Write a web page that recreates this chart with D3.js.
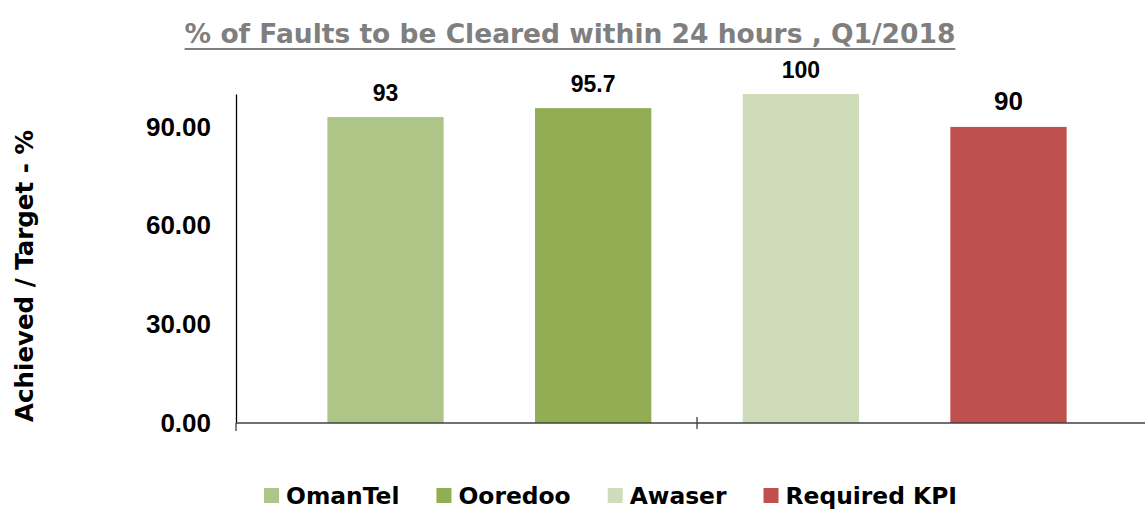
<!DOCTYPE html>
<html>
<head>
<meta charset="utf-8">
<script src="https://cdn.jsdelivr.net/npm/d3@7"></script>
<style>
  html, body { margin: 0; padding: 0; background: #fff; }
  svg { display: block; }
  text { font-family: "Liberation Sans", Arial, sans-serif; font-weight: bold; }
  text.wide { font-family: "DejaVu Sans", sans-serif; }
</style>
</head>
<body>
<svg id="chart" width="1145" height="509"></svg>
<script>
const categories = ["OmanTel", "Ooredoo", "Awaser", "Required KPI"];
const values = [93, 95.7, 100, 90];
const valueLabels = ["93", "95.7", "100", "90"];
const colors = ["#adc687", "#92ae55", "#cfdcb9", "#c0504d"];
const yTicks = [0, 30, 60, 90];
const titleText = "% of Faults to be Cleared within 24 hours , Q1/2018";
const yTitle = "Achieved / Target - %";

(function () {
const svg = d3.select("#chart");
const pLeft = 236, pRight = 1158, pTop = 94, pBottom = 423;

const x = d3.scaleBand().domain(categories).range([pLeft, pRight]).padding(0.44);
const y = d3.scaleLinear().domain([0, 100]).range([pBottom, pTop]);

// Title
const title = svg.append("text")
  .attr("class", "wide")
  .attr("x", 570).attr("y", 43)
  .attr("text-anchor", "middle")
  .attr("fill", "#7f7f7f")
  .style("font-size", "26.5px")
  .text(titleText);
const tb = title.node().getBBox();
svg.append("rect")
  .attr("x", tb.x).attr("y", 48)
  .attr("width", tb.width).attr("height", 2)
  .attr("fill", "#7f7f7f");

// Bars
svg.append("g").selectAll("rect")
  .data(values)
  .join("rect")
  .attr("x", (d, i) => x(categories[i]))
  .attr("y", d => y(d))
  .attr("width", x.bandwidth())
  .attr("height", d => y(0) - y(d))
  .attr("fill", (d, i) => colors[i]);

// Data labels
svg.append("g").selectAll("text")
  .data(values)
  .join("text")
  .attr("x", (d, i) => x(categories[i]) + x.bandwidth() / 2)
  .attr("y", d => y(d) - 16.5)
  .attr("text-anchor", "middle")
  .attr("fill", "#000")
  .style("font-size", (d, i) => i === 3 ? "26px" : "23px")
  .text((d, i) => valueLabels[i]);

// Y axis
const yAxis = svg.append("g")
  .attr("transform", `translate(${pLeft},0)`)
  .call(d3.axisLeft(y).tickValues(yTicks).tickFormat(d3.format(".2f")).tickSize(0).tickPadding(25));
yAxis.select(".domain").attr("stroke", "#000").attr("stroke-width", 1.3);
yAxis.selectAll("text")
  .attr("fill", "#000")
  .style("font-size", "26px")
  .style("font-family", "'Liberation Sans', Arial, sans-serif")
  .style("font-weight", "bold");

// X axis
const xAxisG = svg.append("g");
xAxisG.append("line")
  .attr("x1", pLeft).attr("x2", pRight)
  .attr("y1", y(0)).attr("y2", y(0))
  .attr("stroke", "#404040").attr("stroke-width", 1.5);
xAxisG.append("line")
  .attr("x1", pLeft).attr("x2", pLeft)
  .attr("y1", y(0)).attr("y2", y(0) + 8)
  .attr("stroke", "#404040").attr("stroke-width", 1.3);
const mid = (x.range()[0] + x.range()[1]) / 2;
xAxisG.append("line")
  .attr("x1", mid).attr("x2", mid)
  .attr("y1", y(0) - 6).attr("y2", y(0) + 6)
  .attr("stroke", "#404040").attr("stroke-width", 1.3);

// Y title
svg.append("text")
  .attr("class", "wide")
  .attr("transform", `translate(33,276) rotate(-90)`)
  .attr("text-anchor", "middle")
  .attr("fill", "#000")
  .style("font-size", "24.5px")
  .text(yTitle);

// Legend
const legend = svg.append("g");
let lx = 264;
categories.forEach((c, i) => {
  legend.append("rect")
    .attr("x", lx).attr("y", 488)
    .attr("width", 15).attr("height", 15)
    .attr("fill", colors[i]);
  const t = legend.append("text")
    .attr("class", "wide")
    .attr("x", lx + 22).attr("y", 504)
    .attr("fill", "#000")
    .style("font-size", "23.4px")
    .text(c);
  lx += 22 + t.node().getComputedTextLength() + 37;
});
})();
</script>
</body>
</html>
